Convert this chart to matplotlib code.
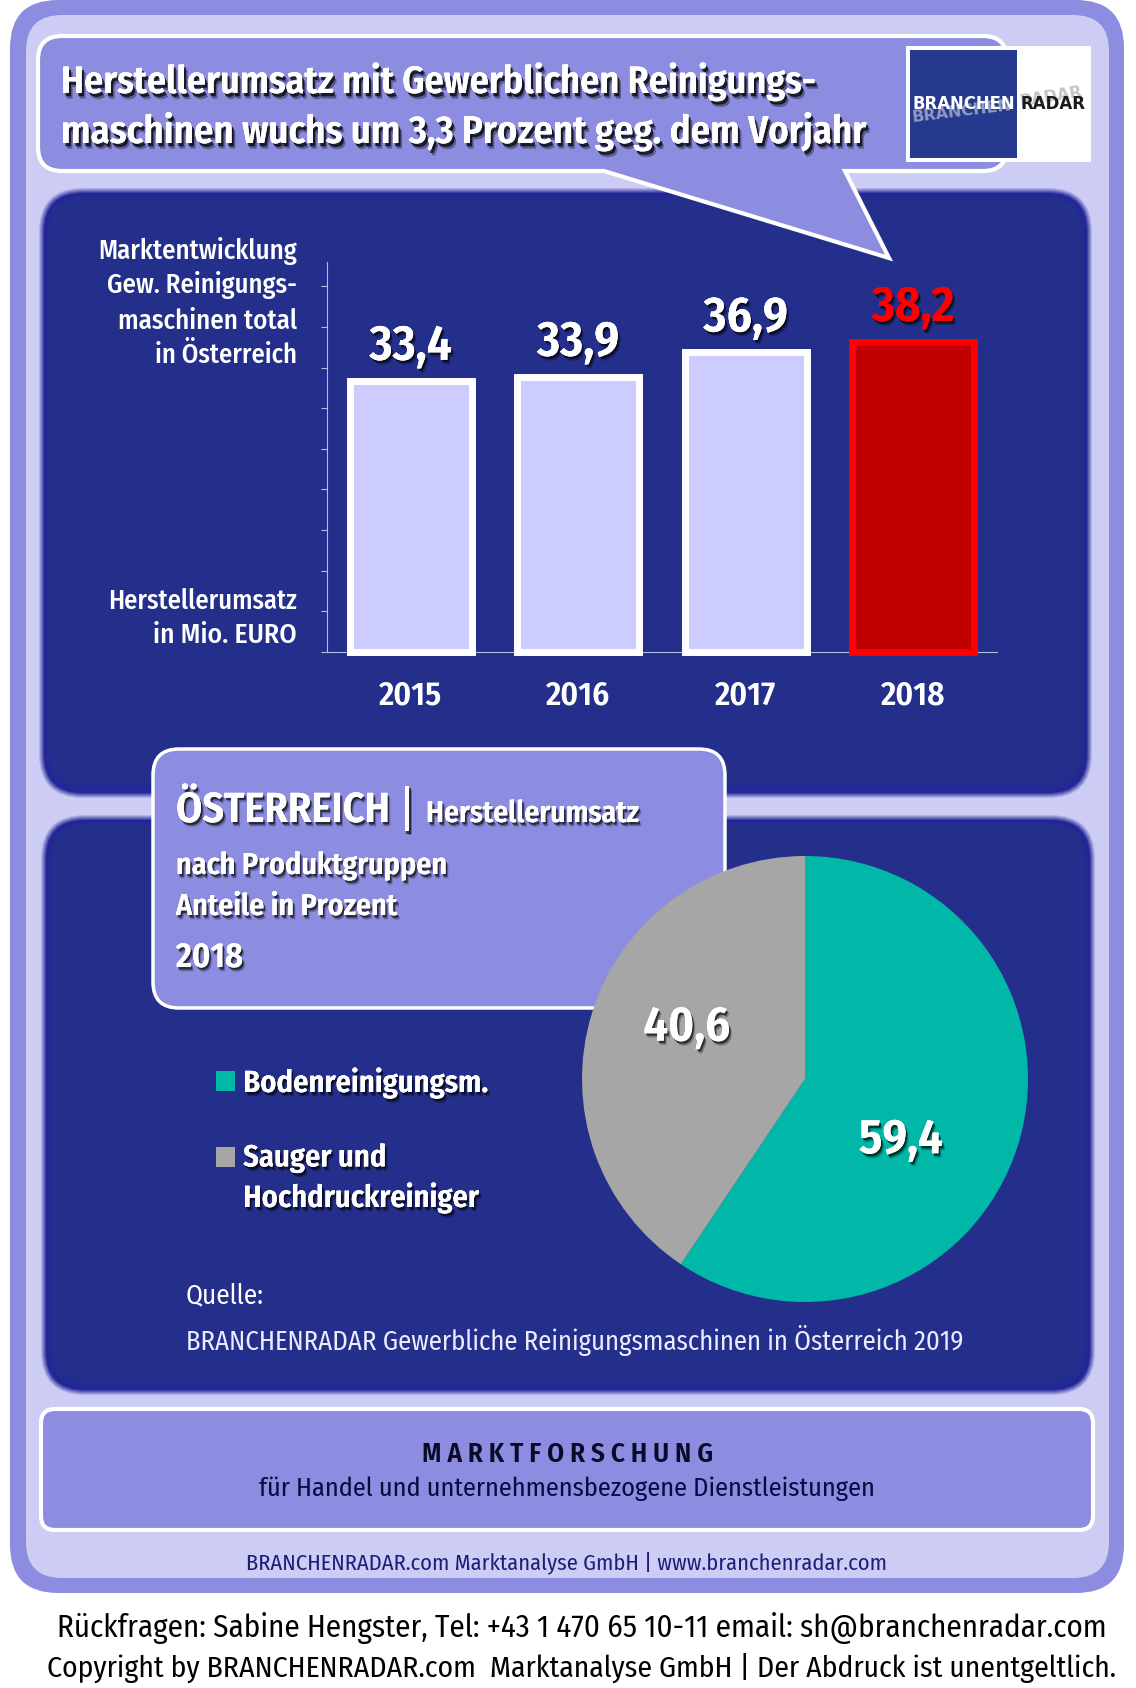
import matplotlib
matplotlib.use('Agg')
import matplotlib.pyplot as plt
import matplotlib.patheffects as pe
from matplotlib.patches import FancyBboxPatch, PathPatch, Rectangle
from matplotlib.path import Path
import logging
logging.getLogger('matplotlib.font_manager').setLevel(logging.ERROR)

years = ['2015', '2016', '2017', '2018']
umsatz = [33.4, 33.9, 36.9, 38.2]
pie_labels = ['Bodenreinigungsm.', 'Sauger und\nHochdruckreiniger']
pie_values = [59.4, 40.6]

W, H = 1136, 1688
PERI = '#8C8CE0'; LIGHT = '#CCCCF5'; NAVY = '#242F8C'; EDGE = '#232696'
BAR = '#CCCCFF'; RED = '#C00000'; TEAL = '#00B7A8'; GREY = '#A6A6A6'
SANS = ['Fira Sans Condensed', 'Roboto Condensed', 'DejaVu Sans']

fig = plt.figure(figsize=(W/100, H/100), dpi=100, facecolor='white')
bg = fig.add_axes([0, 0, 1, 1]); bg.set_xlim(0, W); bg.set_ylim(H, 0); bg.axis('off')
renderer = fig.canvas.get_renderer()

def box(x0, y0, x1, y1, r, fc, ec='none', lw=0, z=1):
    p = FancyBboxPatch((x0, y0), x1-x0, y1-y0, boxstyle=f'round,pad=0,rounding_size={r}',
                       fc=fc, ec=ec, lw=lw, zorder=z)
    bg.add_patch(p); return p

def mix(a, b, t):
    ca, cb = matplotlib.colors.to_rgb(a), matplotlib.colors.to_rgb(b)
    return tuple(u+(v-u)*t for u, v in zip(ca, cb))

def soft(x0, y0, x1, y1, r, z=2):
    n = 6
    for i in range(n):
        box(x0+i, y0+i, x1-i, y1-i, max(r-i, 2), mix(LIGHT, EDGE, (i+1)/n), z=z)
    for i in range(1, 6):
        box(x0+n+i, y0+n+i, x1-n-i, y1-n-2*i, r-n-i, mix(EDGE, NAVY, i/5), z=z)

def shadow(dx=1.2, dy=-1.8, a=.6):
    return [pe.withSimplePatchShadow(offset=(dx*1.7, dy*1.7), shadow_rgbFace='black', alpha=a*.45),
            pe.withSimplePatchShadow(offset=(dx, dy), shadow_rgbFace='black', alpha=a), pe.Normal()]

def fit(t, width):
    for _ in range(3):
        e = t.get_window_extent(renderer)
        t.set_fontsize(t.get_fontsize()*width/e.width)

def T(s, x, y, width=None, size=20, color='white', weight='normal', ha='left', fx=None, family=SANS, z=6):
    t = bg.text(x, y, s, fontsize=size, color=color, weight=weight, ha=ha, va='baseline',
                family=family, zorder=z)
    if width: fit(t, width)
    if fx: t.set_path_effects(fx)
    return t

# frame
box(10, 0, 1124, 1593, 48, PERI, z=1)
box(26, 15, 1109, 1578, 36, LIGHT, z=1)
soft(39, 188, 1092, 798, 44)
soft(41, 815, 1095, 1395, 44)

# speech bubble
x0, y0, x1, y1, r = 38, 36, 1007, 171, 24
tx0, tx1, tipx, tipy = 604, 845, 889, 258
M, L, C = Path.MOVETO, Path.LINETO, Path.CURVE3
verts = [(x0+r, y0), (x1-r, y0), (x1, y0), (x1, y0+r), (x1, y1-r), (x1, y1), (x1-r, y1),
         (tx1, y1), (tipx, tipy), (tx0, y1), (x0+r, y1), (x0, y1), (x0, y1-r), (x0, y0+r), (x0, y0), (x0+r, y0)]
codes = [M, L, C, C, L, C, C, L, L, L, L, C, C, L, C, C]
bg.add_patch(PathPatch(Path(verts, codes), fc=PERI, ec='white', lw=3, joinstyle='miter', zorder=4))
T('Herstellerumsatz mit Gewerblichen Reinigungs-', 61, 93, 754, 28, weight='semibold', fx=shadow(1.6, -2.4, .75))
T('maschinen wuchs um 3,3 Prozent geg. dem Vorjahr', 61, 143, 804, 28, weight='semibold', fx=shadow(1.6, -2.4, .75))

# logo
bg.add_patch(Rectangle((906, 46), 185, 116, fc='white', ec='none', zorder=5))
bg.add_patch(Rectangle((910, 50), 107, 108, fc='#253A8E', ec='none', zorder=5))
LOGO = ['DejaVu Sans']
g1 = T('BRANCHEN', 913, 122, 100, 12, color='#8F9AC6', weight='bold', family=LOGO, z=6)
g1.set_rotation(7); g1.set_rotation_mode('anchor')
T('BRANCHEN', 913, 109, 103, 12, weight='bold', family=LOGO, z=7)
g2 = T('RADAR', 1021, 106, 63, 12, color='#C4C4C4', weight='bold', family=LOGO, z=6)
g2.set_rotation(9); g2.set_rotation_mode('anchor')
T('RADAR', 1021, 109, 65, 12, color='#1A1A1A', weight='bold', family=LOGO, z=7)

# bar chart
def inset(x0, y0, x1, y1, z):
    a = fig.add_axes([x0/W, 1-y1/H, (x1-x0)/W, (y1-y0)/H], zorder=z)
    a.patch.set_alpha(0)
    return a

ax = inset(327, 262, 997, 652, 2)
cols = [BAR, BAR, BAR, RED]; edges = ['white', 'white', 'white', '#FF0000']
ax.bar(range(4), umsatz, width=0.73, color=cols, edgecolor=edges, linewidth=5, clip_on=False, zorder=3)
ax.set_xlim(-0.5, 3.5); ax.set_ylim(0, 48.0)
ax.set_yticks(range(0, 50, 5)); ax.set_yticklabels([])
ax.set_xticks(range(4)); ax.set_xticklabels(years, family=SANS, weight='semibold', fontsize=24, color='white')
ax.tick_params(axis='x', length=0, pad=20)
ax.tick_params(axis='y', length=4, width=0.8, color='#B8BCDC')
for s in ['top', 'right']: ax.spines[s].set_visible(False)
for s in ['left', 'bottom']:
    ax.spines[s].set_color('#B8BCDC'); ax.spines[s].set_linewidth(0.8)
for i, v in enumerate(umsatz):
    c = '#FF0000' if i == 3 else 'white'
    t = ax.annotate(f'{v:.1f}'.replace('.', ','), (i, v), xytext=(0, 15), textcoords='offset points',
                ha='center', va='baseline', fontsize=35.5, color=c, weight='semibold', family=SANS, zorder=5)
    t.set_path_effects(shadow())

for s, y, w in [('Marktentwicklung', 259, 199), ('Gew. Reinigungs-', 293, 190), ('maschinen total', 329, 179),
                ('in Österreich', 363, 142), ('Herstellerumsatz', 609, 188), ('in Mio. EURO', 643, 144)]:
    T(s, 297, y, w, 20, weight='medium', ha='right')

# info box
box(153, 749, 725, 1008, 26, PERI, ec='white', lw=2.5, z=4)
T('ÖSTERREICH', 176, 822, 214, 26, weight='semibold', fx=shadow())
T('|', 398, 826, None, 36, weight='normal', fx=shadow())
T('Herstellerumsatz', 426, 822, 213, 20, weight='semibold', fx=shadow())
T('nach Produktgruppen', 176, 874, 270, 20, weight='semibold', fx=shadow())
T('Anteile in Prozent', 176, 915, 221, 20, weight='semibold', fx=shadow())
T('2018', 176, 967, 67, 20, weight='semibold', fx=shadow())

# pie
cx, cy, pr = 805, 1079, 223
pa = inset(cx-pr, cy-pr, cx+pr, cy+pr, 5)
wedges, _ = pa.pie(pie_values, colors=[TEAL, GREY], startangle=90, counterclock=False, radius=1)
pa.set_xlim(-1, 1); pa.set_ylim(-1, 1)
for v, (x, y) in zip(pie_values, [(0.43, -0.275), (-0.53, 0.23)]):
    t = pa.text(x, y, f'{v:.1f}'.replace('.', ','), ha='center', va='center', fontsize=35,
                color='white', weight='semibold', family=SANS)
    t.set_path_effects(shadow())

# legend
lg = fig.legend(wedges, pie_labels, loc='upper left', bbox_to_anchor=(216/W, 1-1067/H), frameon=False,
                prop={'family': SANS, 'weight': 'semibold', 'size': 22}, labelcolor='white',
                handlelength=0.62, handleheight=0.62, handletextpad=0.27, labelspacing=1.42, borderpad=0, borderaxespad=0)
lg.set_zorder(6)
for t in lg.get_texts():
    t.set_path_effects(shadow()); t.set_linespacing(1.34)
lg.legend_handles[1].set_y(lg.legend_handles[1].get_y()+16)

# source
T('Quelle:', 186, 1303, 78, 20)
T('BRANCHENRADAR Gewerbliche Reinigungsmaschinen in Österreich 2019', 186, 1350, 778, 20, color='#ECECFF')

# market box
box(41, 1409, 1093, 1530, 14, PERI, ec='white', lw=3, z=3)
T('M A R K T F O R S C H U N G', 568, 1462, 292, 20, color='#0A0A28', weight='semibold', ha='center')
T('für Handel und unternehmensbezogene Dienstleistungen', 567, 1496, 616, 20, color='#0A0A40', ha='center')
T('BRANCHENRADAR.com Marktanalyse GmbH | www.branchenradar.com', 566, 1569, 641, 18, color='#1E1E78', ha='center')

# footer
T('Rückfragen: Sabine Hengster, Tel: +43 1 470 65 10-11 email: sh@branchenradar.com', 57, 1637, 1050, 22, color='black')
T('Copyright by BRANCHENRADAR.com  Marktanalyse GmbH | Der Abdruck ist unentgeltlich.', 47, 1677, 1069, 22, color='black')

fig.savefig('out.png', dpi=100, facecolor='white')
